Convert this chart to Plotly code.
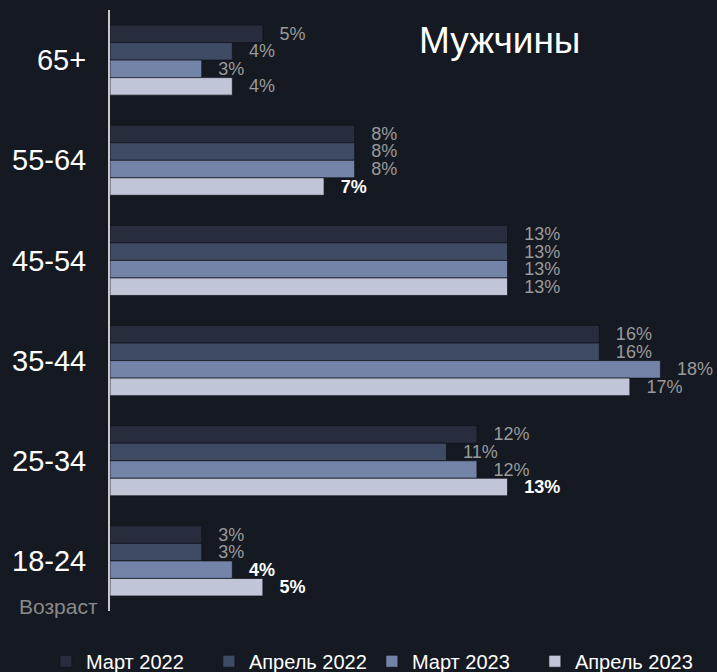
import plotly.graph_objects as go

age_groups = ['65+', '55-64', '45-54', '35-44', '25-34', '18-24']
series_names = ['Март 2022', 'Апрель 2022', 'Март 2023', 'Апрель 2023']
mar_2022 = [5, 8, 13, 16, 12, 3]
apr_2022 = [4, 8, 13, 16, 11, 3]
mar_2023 = [3, 8, 13, 18, 12, 4]
apr_2023 = [4, 7, 13, 17, 13, 5]
# labels shown bold/white in the original
highlight = {
    'Март 2023': ['18-24'],
    'Апрель 2023': ['55-64', '25-34', '18-24'],
}

colors = ['#272d3d', '#3f4b65', '#7384a8', '#c0c5d8']
BG = '#151922'
FONT = 'Arial, Liberation Sans, sans-serif'
PAD = '\u00a0\u00a0\u2009'

fig = go.Figure()
for name, vals, col in zip(series_names, [mar_2022, apr_2022, mar_2023, apr_2023], colors):
    bold = highlight.get(name, [])
    texts, tcolors = [], []
    for cat, v in zip(age_groups, vals):
        if cat in bold:
            texts.append(PAD + '<b>%d%%</b>' % v)
            tcolors.append('#ffffff')
        else:
            texts.append(PAD + '%d%%' % v)
            tcolors.append('#9a9a9a')
    fig.add_trace(go.Bar(
        y=age_groups, x=vals, name=name, orientation='h',
        marker=dict(color=col, line=dict(color='rgba(15,18,26,0.7)', width=1)),
        text=texts, textposition='outside', cliponaxis=False,
        constraintext='none',
        textfont=dict(color=tcolors, size=18, family=FONT),
        hoverinfo='skip',
    ))

fig.update_layout(
    width=717, height=672,
    paper_bgcolor=BG, plot_bgcolor=BG,
    font=dict(family=FONT, color='#ffffff'),
    barmode='group', bargap=0.3, bargroupgap=0,
    margin=dict(l=0, r=0, t=10, b=61, autoexpand=False),
    xaxis=dict(range=[0, 19], domain=[110 / 717, 691 / 717], visible=False, fixedrange=True),
    yaxis=dict(autorange='reversed', showline=True, linecolor='#c8c8c8', linewidth=2,
               showgrid=False, ticks='', ticklabelstandoff=16, automargin=False,
               fixedrange=True,
               tickfont=dict(size=29, color='#ffffff', family=FONT)),
    legend=dict(orientation='h', xref='container', yref='container',
                x=0.064, xanchor='left', y=0.016, yanchor='middle',
                font=dict(size=20, color='#ffffff', family=FONT),
                entrywidth=118, entrywidthmode='pixels',
                bgcolor='rgba(0,0,0,0)'),
    showlegend=True,
    annotations=[
        dict(text='Мужчины', xref='paper', yref='paper', x=499 / 717, y=0.95,
             xanchor='center', yanchor='middle', showarrow=False,
             font=dict(size=37, color='#ffffff', family=FONT)),
        dict(text='Возраст', xref='paper', yref='paper', x=100 / 717, y=0.008,
             xanchor='right', yanchor='middle', showarrow=False,
             font=dict(size=21, color='#8a8a8a', family=FONT)),
    ],
)

fig.write_html("out.html", config={'displayModeBar': False},
               post_script="document.body.style.margin='0';")
